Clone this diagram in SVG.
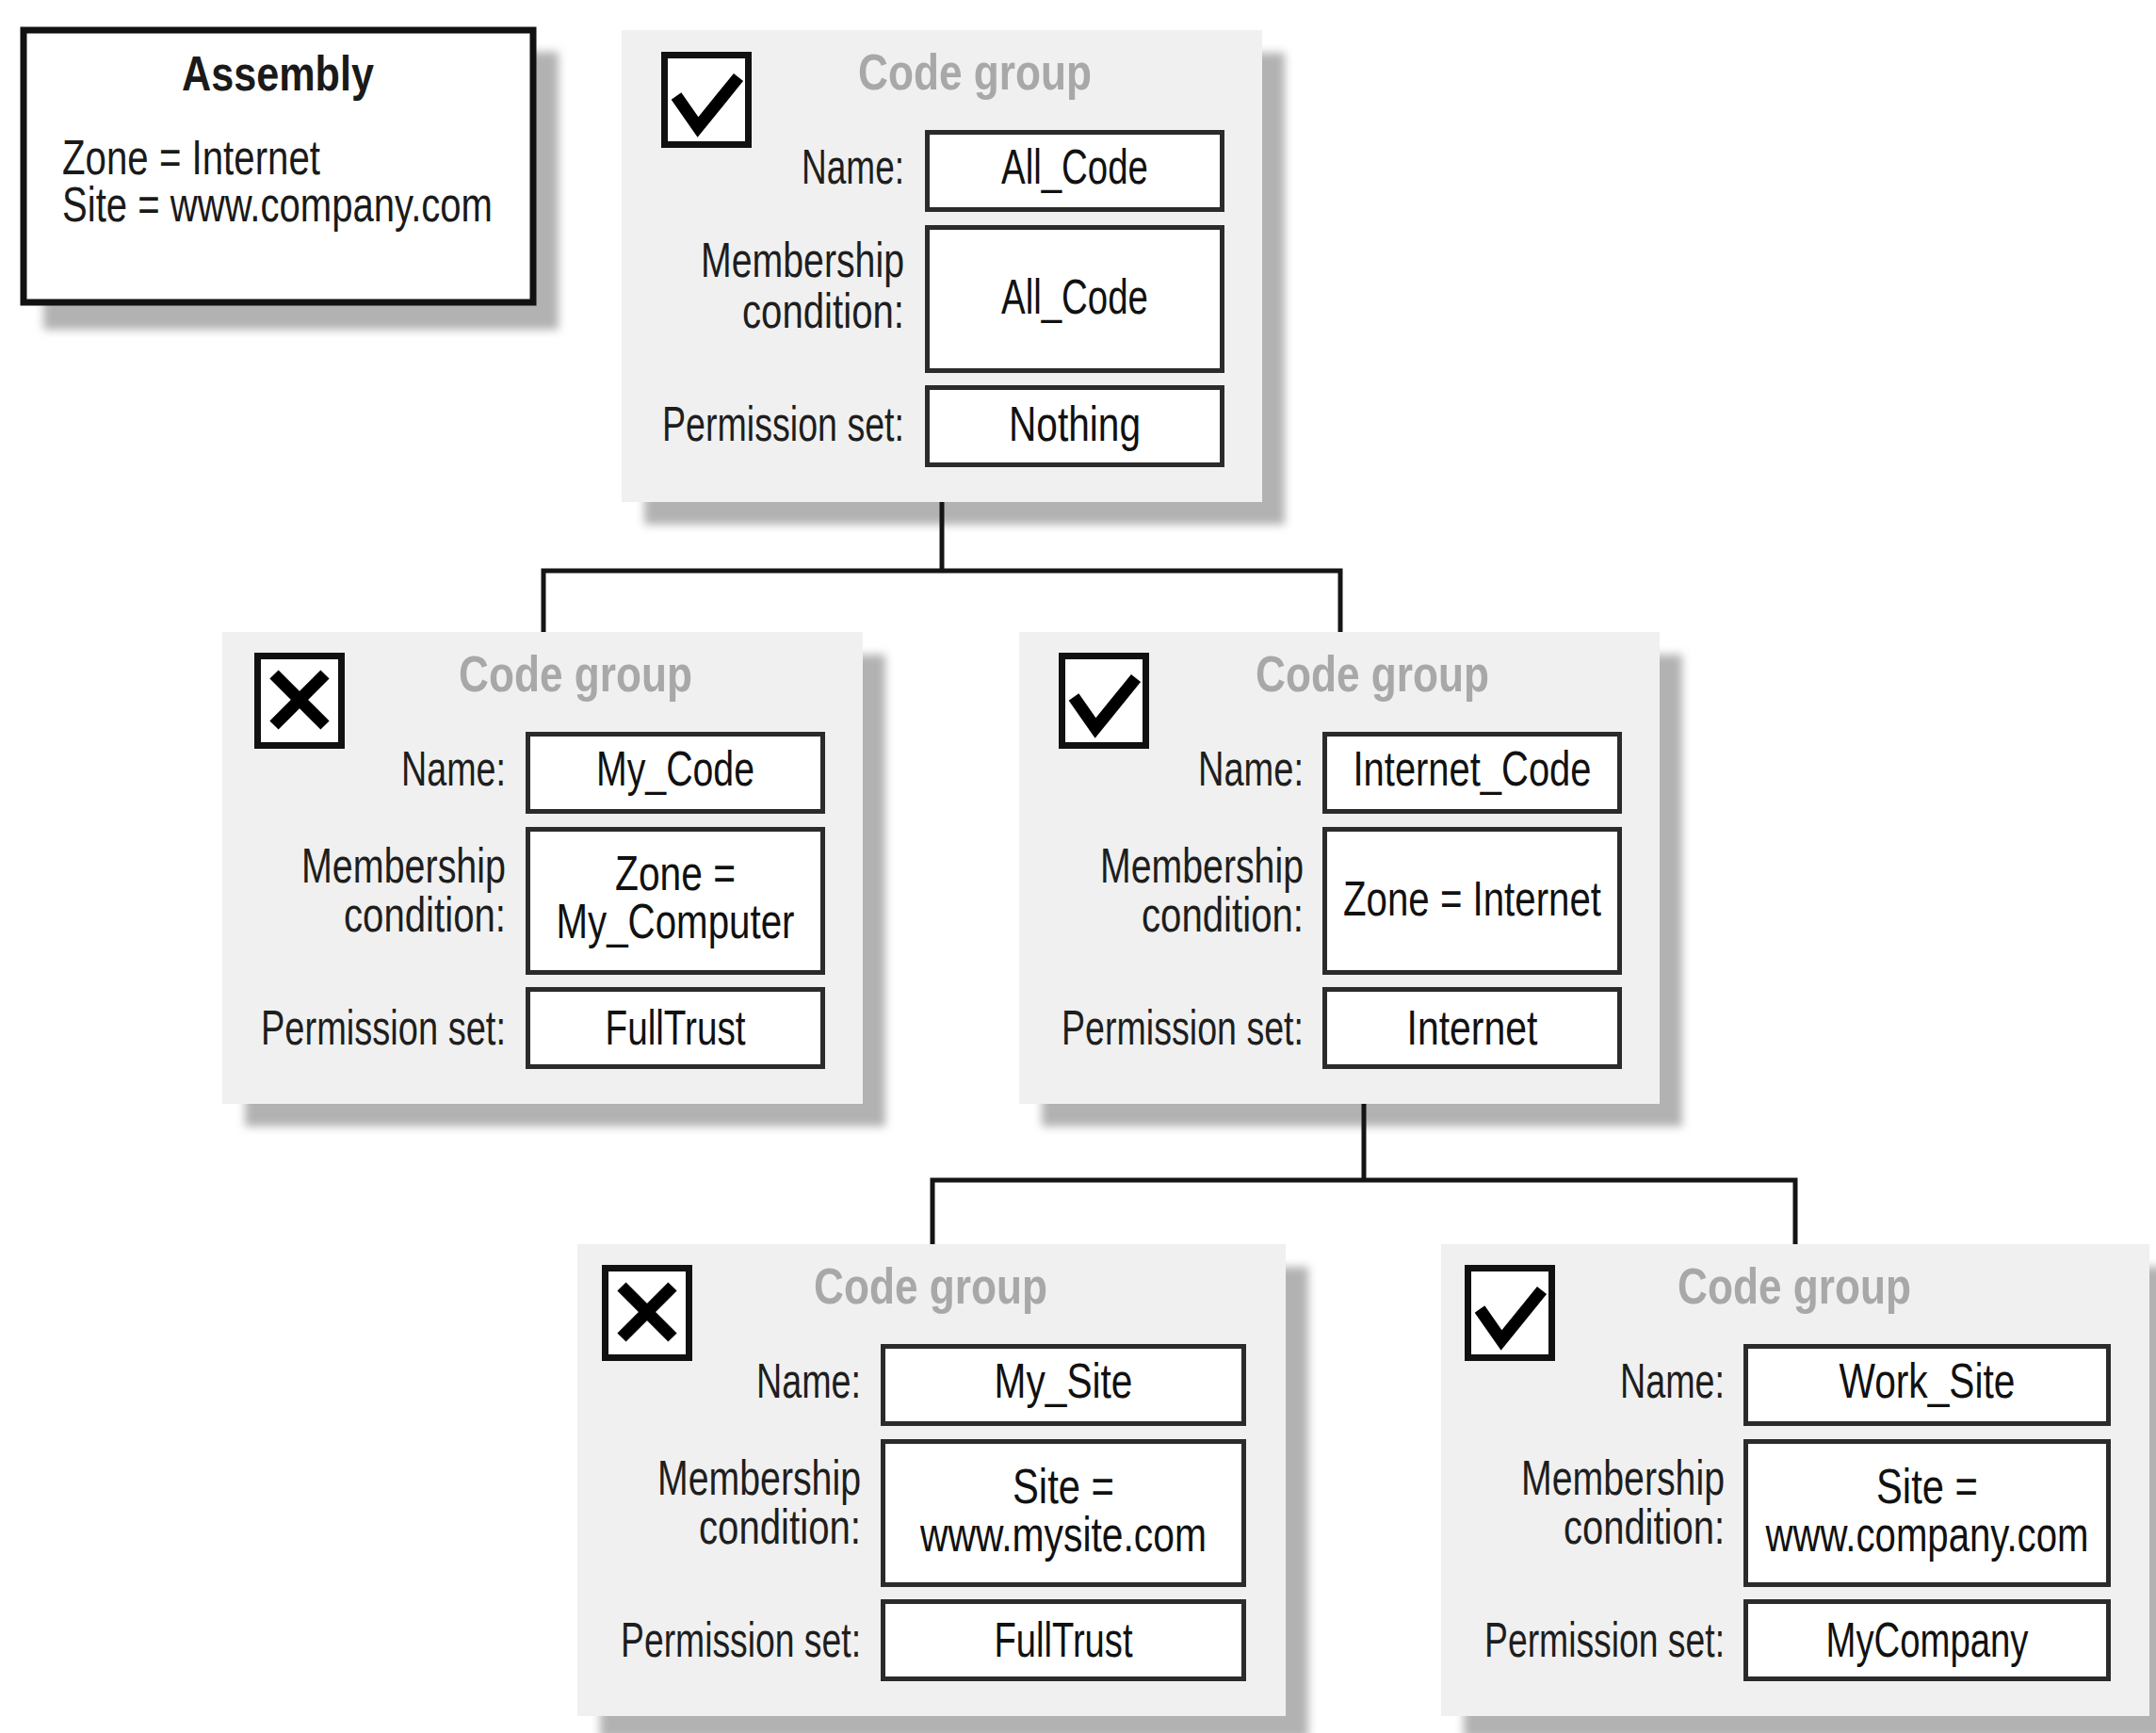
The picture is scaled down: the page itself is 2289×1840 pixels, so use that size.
<svg xmlns="http://www.w3.org/2000/svg" width="2289" height="1840" viewBox="0 0 2289 1840">
  <defs>
    <filter id="soft" x="-10%" y="-10%" width="120%" height="120%">
      <feGaussianBlur stdDeviation="5"/>
    </filter>
    <style>
      text { font-family: "Liberation Sans", Arial, sans-serif; }
      .panel { fill: #f0f0f0; }
      .shadow { fill: #b2b2b2; filter: url(#soft); }
      .field { fill: #ffffff; stroke: #2b2b2b; stroke-width: 5; }
      .cb { fill: #ffffff; stroke: #111111; stroke-width: 7; }
      .mark { fill: none; stroke: #000000; stroke-width: 13; stroke-linejoin: miter; }
      .ttl { font-size: 54px; font-weight: bold; fill: #a8a8a8; text-anchor: middle; }
      .lbl { font-size: 52px; fill: #1e1e1e; text-anchor: end; }
      .val { font-size: 52px; fill: #111111; text-anchor: middle; }
      .asm { font-size: 52px; fill: #1a1a1a; }
      .wire { fill: none; stroke: #151515; stroke-width: 5; }
    </style>
  </defs>

  <rect width="2289" height="1840" fill="#ffffff"/>

  <!-- Assembly evidence box -->
  <g id="assembly">
    <rect class="shadow" x="46" y="55" width="547" height="295"/>
    <rect x="25" y="32" width="541" height="289" fill="#ffffff" stroke="#111111" stroke-width="7"/>
    <text class="asm" x="295" y="96" text-anchor="middle" font-weight="bold" textLength="204" lengthAdjust="spacingAndGlyphs">Assembly</text>
    <text class="asm" x="66" y="185" textLength="274" lengthAdjust="spacingAndGlyphs">Zone = Internet</text>
    <text class="asm" x="66" y="235" textLength="457" lengthAdjust="spacingAndGlyphs">Site = www.company.com</text>
  </g>

  <!-- Root code group: All_Code -->
  <g id="all-code" transform="translate(660,32)">
    <rect class="shadow" x="24" y="24" width="680" height="501"/>
    <rect class="panel" x="0" y="0" width="680" height="501"/>
    <rect class="cb" x="45.5" y="26.5" width="89" height="95"/>
    <polyline class="mark" points="58,70 81,103 124,50"/>
    <text class="ttl" x="375" y="63" textLength="248" lengthAdjust="spacingAndGlyphs">Code group</text>
    <text class="lbl" x="300" y="163" textLength="109" lengthAdjust="spacingAndGlyphs">Name:</text>
    <text class="lbl" x="300" y="262" textLength="216" lengthAdjust="spacingAndGlyphs">Membership</text>
    <text class="lbl" x="300" y="316" textLength="172" lengthAdjust="spacingAndGlyphs">condition:</text>
    <text class="lbl" x="300" y="436" textLength="257" lengthAdjust="spacingAndGlyphs">Permission set:</text>
    <rect class="field" x="324.5" y="108.5" width="313" height="82"/>
    <rect class="field" x="324.5" y="209.5" width="313" height="152"/>
    <rect class="field" x="324.5" y="379.5" width="313" height="82"/>
    <text class="val" x="481" y="163" textLength="156" lengthAdjust="spacingAndGlyphs">All_Code</text>
    <text class="val" x="481" y="301" textLength="156" lengthAdjust="spacingAndGlyphs">All_Code</text>
    <text class="val" x="481" y="436" textLength="140" lengthAdjust="spacingAndGlyphs">Nothing</text>
  </g>

  <!-- Child: My_Code -->
  <g id="my-code" transform="translate(236,671)">
    <rect class="shadow" x="24" y="24" width="680" height="501"/>
    <rect class="panel" x="0" y="0" width="680" height="501"/>
    <rect class="cb" x="37.5" y="25.5" width="89" height="95"/>
    <path class="mark" d="M55,45 L109,99 M109,45 L55,99" stroke-width="15"/>
    <text class="ttl" x="375" y="63" textLength="248" lengthAdjust="spacingAndGlyphs">Code group</text>
    <text class="lbl" x="301" y="163" textLength="111" lengthAdjust="spacingAndGlyphs">Name:</text>
    <text class="lbl" x="301" y="266" textLength="217" lengthAdjust="spacingAndGlyphs">Membership</text>
    <text class="lbl" x="301" y="318" textLength="172" lengthAdjust="spacingAndGlyphs">condition:</text>
    <text class="lbl" x="301" y="438" textLength="260" lengthAdjust="spacingAndGlyphs">Permission set:</text>
    <rect class="field" x="324.5" y="108.5" width="313" height="82"/>
    <rect class="field" x="324.5" y="209.5" width="313" height="152"/>
    <rect class="field" x="324.5" y="379.5" width="313" height="82"/>
    <text class="val" x="481" y="163" textLength="168" lengthAdjust="spacingAndGlyphs">My_Code</text>
    <text class="val" x="481" y="274" textLength="128" lengthAdjust="spacingAndGlyphs">Zone =</text>
    <text class="val" x="481" y="325" textLength="253" lengthAdjust="spacingAndGlyphs">My_Computer</text>
    <text class="val" x="481" y="438" textLength="149" lengthAdjust="spacingAndGlyphs">FullTrust</text>
  </g>

  <!-- Child: Internet_Code -->
  <g id="internet-code" transform="translate(1082,671)">
    <rect class="shadow" x="24" y="24" width="680" height="501"/>
    <rect class="panel" x="0" y="0" width="680" height="501"/>
    <rect class="cb" x="45.5" y="25.5" width="89" height="95"/>
    <polyline class="mark" points="58,69 81,102 124,49"/>
    <text class="ttl" x="375" y="63" textLength="248" lengthAdjust="spacingAndGlyphs">Code group</text>
    <text class="lbl" x="302" y="163" textLength="112" lengthAdjust="spacingAndGlyphs">Name:</text>
    <text class="lbl" x="302" y="266" textLength="216" lengthAdjust="spacingAndGlyphs">Membership</text>
    <text class="lbl" x="302" y="318" textLength="172" lengthAdjust="spacingAndGlyphs">condition:</text>
    <text class="lbl" x="302" y="438" textLength="257" lengthAdjust="spacingAndGlyphs">Permission set:</text>
    <rect class="field" x="324.5" y="108.5" width="313" height="82"/>
    <rect class="field" x="324.5" y="209.5" width="313" height="152"/>
    <rect class="field" x="324.5" y="379.5" width="313" height="82"/>
    <text class="val" x="481" y="163" textLength="253" lengthAdjust="spacingAndGlyphs">Internet_Code</text>
    <text class="val" x="481" y="301" textLength="274" lengthAdjust="spacingAndGlyphs">Zone = Internet</text>
    <text class="val" x="481" y="438" textLength="139" lengthAdjust="spacingAndGlyphs">Internet</text>
  </g>

  <!-- Grandchild: My_Site -->
  <g id="my-site" transform="translate(613,1321)">
    <rect class="shadow" x="24" y="24" width="752" height="501"/>
    <rect class="panel" x="0" y="0" width="752" height="501"/>
    <rect class="cb" x="29.5" y="25.5" width="89" height="95"/>
    <path class="mark" d="M47,45 L101,99 M101,45 L47,99" stroke-width="15"/>
    <text class="ttl" x="375" y="63" textLength="248" lengthAdjust="spacingAndGlyphs">Code group</text>
    <text class="lbl" x="301" y="163" textLength="111" lengthAdjust="spacingAndGlyphs">Name:</text>
    <text class="lbl" x="301" y="266" textLength="216" lengthAdjust="spacingAndGlyphs">Membership</text>
    <text class="lbl" x="301" y="318" textLength="172" lengthAdjust="spacingAndGlyphs">condition:</text>
    <text class="lbl" x="301" y="438" textLength="255" lengthAdjust="spacingAndGlyphs">Permission set:</text>
    <rect class="field" x="324.5" y="108.5" width="383" height="82"/>
    <rect class="field" x="324.5" y="209.5" width="383" height="152"/>
    <rect class="field" x="324.5" y="379.5" width="383" height="82"/>
    <text class="val" x="516" y="163" textLength="147" lengthAdjust="spacingAndGlyphs">My_Site</text>
    <text class="val" x="516" y="275" textLength="108" lengthAdjust="spacingAndGlyphs">Site =</text>
    <text class="val" x="516" y="326" textLength="304" lengthAdjust="spacingAndGlyphs">www.mysite.com</text>
    <text class="val" x="516" y="438" textLength="147" lengthAdjust="spacingAndGlyphs">FullTrust</text>
  </g>

  <!-- Grandchild: Work_Site -->
  <g id="work-site" transform="translate(1530,1321)">
    <rect class="shadow" x="24" y="24" width="752" height="501"/>
    <rect class="panel" x="0" y="0" width="752" height="501"/>
    <rect class="cb" x="28.5" y="25.5" width="89" height="95"/>
    <polyline class="mark" points="41,69 64,102 107,49"/>
    <text class="ttl" x="375" y="63" textLength="248" lengthAdjust="spacingAndGlyphs">Code group</text>
    <text class="lbl" x="301" y="163" textLength="111" lengthAdjust="spacingAndGlyphs">Name:</text>
    <text class="lbl" x="301" y="266" textLength="216" lengthAdjust="spacingAndGlyphs">Membership</text>
    <text class="lbl" x="301" y="318" textLength="171" lengthAdjust="spacingAndGlyphs">condition:</text>
    <text class="lbl" x="301" y="438" textLength="255" lengthAdjust="spacingAndGlyphs">Permission set:</text>
    <rect class="field" x="323.5" y="108.5" width="385" height="82"/>
    <rect class="field" x="323.5" y="209.5" width="385" height="152"/>
    <rect class="field" x="323.5" y="379.5" width="385" height="82"/>
    <text class="val" x="516" y="163" textLength="187" lengthAdjust="spacingAndGlyphs">Work_Site</text>
    <text class="val" x="516" y="275" textLength="108" lengthAdjust="spacingAndGlyphs">Site =</text>
    <text class="val" x="516" y="326" textLength="343" lengthAdjust="spacingAndGlyphs">www.company.com</text>
    <text class="val" x="516" y="438" textLength="215" lengthAdjust="spacingAndGlyphs">MyCompany</text>
  </g>

  <!-- Tree connectors -->
  <g id="connectors" class="wire">
    <path d="M1000,533 V606"/>
    <path d="M577,671 V606 H1423 V671"/>
    <path d="M1448,1172 V1253"/>
    <path d="M990,1321 V1253 H1906 V1321"/>
  </g>
</svg>
